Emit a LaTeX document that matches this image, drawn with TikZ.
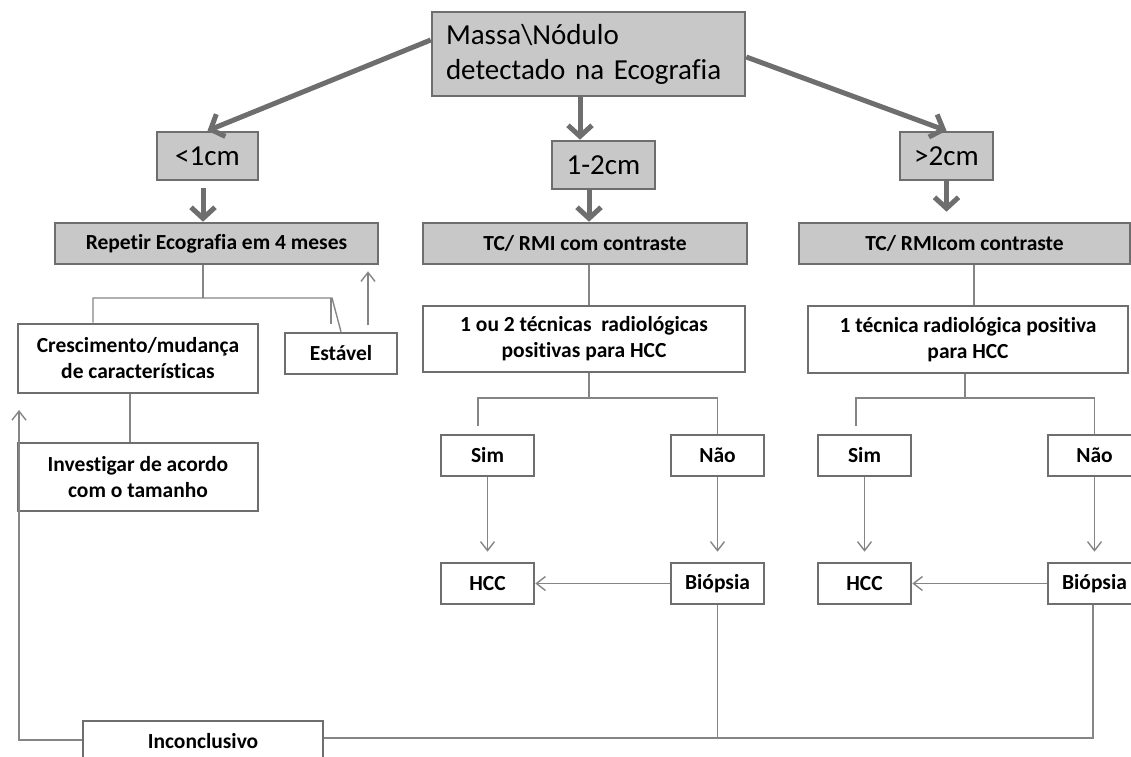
\documentclass[tikz,border=0pt]{standalone}
\usepackage{fontspec}
\setmainfont[Ligatures=NoCommon]{Carlito}
\usetikzlibrary{arrows.meta}
\definecolor{boxfill}{HTML}{C8C8C8}
\definecolor{boxline}{HTML}{6E6E6E}
\definecolor{thinline}{HTML}{858585}
\begin{document}
\begin{tikzpicture}[x=1pt,y=-1pt,
 graybox/.style={draw=boxline, line width=2.6pt, fill=boxfill, inner sep=0pt, align=center},
 whitebox/.style={draw=boxline, line width=2.6pt, fill=white, inner sep=0pt, align=center, font=\fontsize{21.5}{26}\selectfont\bfseries},
 bigarrow/.style={draw=boxline, line width=5pt, -{Straight Barb[length=11pt,width=24pt]}},
 thin/.style={draw=thinline, line width=1.4pt},
 thinarrow/.style={thin, -{Straight Barb[length=9pt,width=14pt]}},
 bigfont/.style={font=\fontsize{29}{35}\selectfont},
 labfont/.style={font=\fontsize{21.5}{26}\selectfont\bfseries}
]
\useasboundingbox (0,0) rectangle (1131,756);
% gray boxes
\node[graybox, bigfont, minimum width=313pt, minimum height=84pt, text width=285pt, align=left] (top) at (588.5,54) {Massa\textbackslash Nódulo\\detectado na Ecografia};
\node[graybox, bigfont, minimum width=101pt, minimum height=48pt] (lt1) at (207.5,156) {<1cm};
\node[graybox, bigfont, minimum width=103pt, minimum height=48pt] (mid12) at (603.5,165) {1-2cm};
\node[graybox, bigfont, minimum width=93pt, minimum height=48pt] (gt2) at (946.5,156) {>2cm};
\node[graybox, labfont, minimum width=323pt, minimum height=41pt] (repetir) at (216.5,243.5) {Repetir Ecografia em 4 meses};
\node[graybox, labfont, minimum width=324pt, minimum height=41pt] (tcA) at (585,243.5) {TC/ RMI com contraste};
\node[graybox, labfont, minimum width=331pt, minimum height=41pt] (tcB) at (964.5,243.5) {TC/ RMIcom contraste};
% white boxes
\node[whitebox, minimum width=240pt, minimum height=69pt] (cresc) at (138,358.5) {Crescimento/mudança\\de características};
\node[whitebox, minimum width=112pt, minimum height=41pt] (estavel) at (341,353.5) {Estável};
\node[whitebox, minimum width=240pt, minimum height=68pt] (invest) at (138,477) {Investigar de acordo\\com o tamanho};
\node[whitebox, minimum width=322pt, minimum height=66pt] (tec12) at (584,339) {1 ou 2 técnicas\ \ radiológicas\\positivas para HCC};
\node[whitebox, minimum width=320pt, minimum height=67pt] (tec1) at (968,339.5) {1 técnica radiológica positiva\\para HCC};
\node[whitebox, minimum width=93pt, minimum height=41pt] (simA) at (487.5,455.5) {Sim};
\node[whitebox, minimum width=93pt, minimum height=41pt] (naoA) at (717.5,455.5) {Não};
\node[whitebox, minimum width=93pt, minimum height=41pt] (hccA) at (487.5,583.5) {HCC};
\node[whitebox, minimum width=93pt, minimum height=41pt] (biopA) at (717.5,583.5) {Biópsia};
\node[whitebox, minimum width=93pt, minimum height=41pt] (simB) at (864.5,455.5) {Sim};
\node[whitebox, minimum width=93pt, minimum height=41pt] (naoB) at (1094.5,455.5) {Não};
\node[whitebox, minimum width=93pt, minimum height=41pt] (hccB) at (864.5,583.5) {HCC};
\node[whitebox, minimum width=93pt, minimum height=41pt] (biopB) at (1094.5,583.5) {Biópsia};
\node[whitebox, minimum width=240pt, minimum height=40pt] (inconc) at (203,741) {Inconclusivo};
% big arrows
\draw[bigarrow] ([yshift=14pt]top.west) -- (lt1.north);
\draw[bigarrow] ([xshift=-8.5pt]top.south) -- ([xshift=-8.5pt]top.south |- mid12.north);
\draw[bigarrow] ([yshift=-3pt]top.east) -- (gt2.north);
\draw[bigarrow, shorten <=7pt] ([xshift=-4.5pt]lt1.south) -- ([xshift=-4.5pt]lt1.south |- repetir.north);
\draw[bigarrow] ([xshift=-14.5pt]mid12.south) -- ([xshift=-14.5pt]mid12.south |- tcA.north);
\draw[bigarrow, shorten >=10pt] (gt2.south) -- (gt2.south |- tcB.north);
% left tree
\coordinate (lh1) at (93,298);
\coordinate (lh2) at (332,298);
\coordinate (stub) at (331,324);
\coordinate (eu) at (368,325);
\draw[thin] ([xshift=-13.5pt]repetir.south) -- ([xshift=-13.5pt]repetir.south |- lh1);
\draw[thin] (cresc.north -| lh1) -- (lh1) -- (lh2) -- (estavel.north);
\draw[thin] (lh2 -| stub) -- (stub);
\draw[thinarrow, shorten >=6pt] (eu) -- (eu |- repetir.south);
\draw[thin] ([xshift=-8pt]cresc.south) -- ([xshift=-8pt]cresc.south |- invest.north);
\coordinate (loopc) at (19,740);
\coordinate (looptip) at (19,410);
\draw[thinarrow] (inconc.west |- loopc) -- (loopc) -- (looptip);
% middle tree
\draw[thin] ([xshift=4pt]tcA.south) -- ([xshift=4pt]tcA.south |- tec12.north);
\draw[thin] ([xshift=9.5pt]tcB.south) -- ([xshift=9.5pt]tcB.south |- tec1.north);
\coordinate (ja) at (589,398);
\coordinate (jaL) at (478,398);
\coordinate (jaLe) at (478,426);
\draw[thin] ([xshift=5pt]tec12.south) -- (ja);
\draw[thin] (jaLe) -- (jaL) -- (jaL -| naoA.north) -- (naoA.north);
\draw[thinarrow, shorten >=10pt] (simA.south) -- (simA.south |- hccA.north);
\draw[thinarrow, shorten >=10pt] (naoA.south) -- (naoA.south |- biopA.north);
\draw[thinarrow] (biopA.west) -- (hccA.east);
% right tree
\coordinate (jb) at (965,398);
\coordinate (jbL) at (856,398);
\coordinate (jbLe) at (856,426);
\draw[thin] ([xshift=-3pt]tec1.south) -- (jb);
\draw[thin] (jbLe) -- (jbL) -- (jbL -| naoB.north) -- (naoB.north);
\draw[thinarrow, shorten >=10pt] (simB.south) -- (simB.south |- hccB.north);
\draw[thinarrow, shorten >=10pt] (naoB.south) -- (naoB.south |- biopB.north);
\draw[thinarrow] (biopB.west) -- (hccB.east);
% bottom
\coordinate (hl) at (0,738);
\draw[thin] (biopA.south) -- (biopA.south |- hl);
\draw[thin] (inconc.east |- hl) -- ([xshift=-1.5pt]biopB.south |- hl) -- ([xshift=-1.5pt]biopB.south);
\end{tikzpicture}
\end{document}
